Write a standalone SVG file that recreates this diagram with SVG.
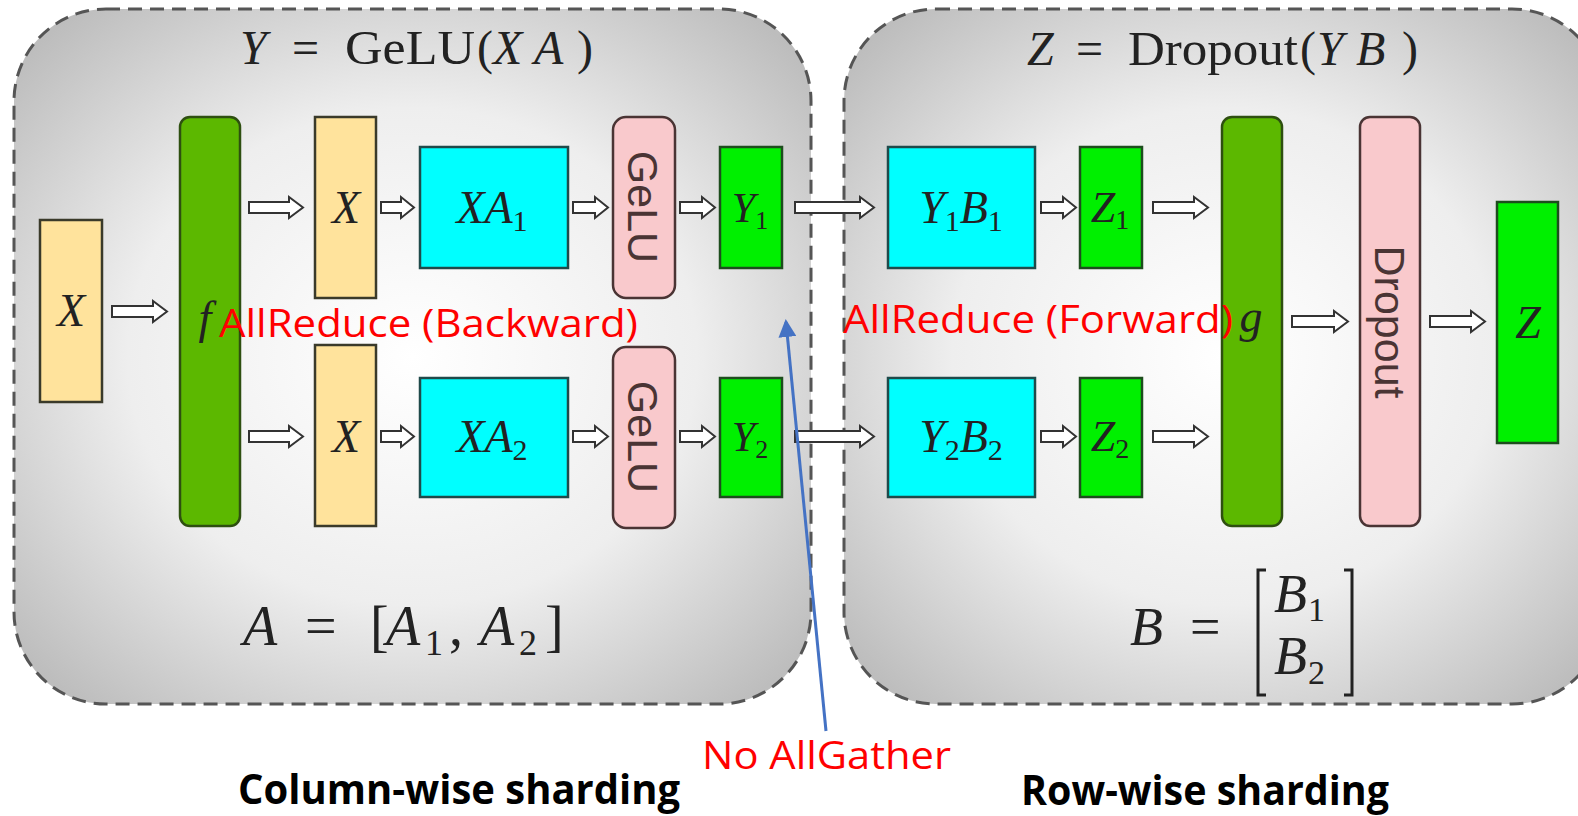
<svg xmlns="http://www.w3.org/2000/svg" width="1578" height="816" viewBox="0 0 1578 816">
<defs>
<radialGradient id="pg" cx="0.5" cy="0.5" r="0.65">
<stop offset="0" stop-color="#ffffff"/>
<stop offset="0.55" stop-color="#eeeeee"/>
<stop offset="1" stop-color="#bdbdbd"/>
</radialGradient>
<marker id="bh" viewBox="0 0 12 12" refX="10" refY="6" markerWidth="6" markerHeight="6" orient="auto">
<path d="M0,0 L12,6 L0,12 z" fill="#4472c4"/>
</marker>
<style>
.panel{fill:url(#pg);stroke:#555;stroke-width:3;stroke-dasharray:14 8}
.xb{fill:#ffe39c;stroke:#3a3a2a;stroke-width:2.5}
.bar{fill:#5cb800;stroke:#2e4f10;stroke-width:2.5}
.cy{fill:#00ffff;stroke:#1f4a4a;stroke-width:2.5}
.gr{fill:#00f000;stroke:#1d4d1d;stroke-width:2.5}
.pk{fill:#f9c9cc;stroke:#4a3434;stroke-width:2.5}
.ar{fill:#ffffff;stroke:#333;stroke-width:2}
.m{font-family:"Liberation Serif","DejaVu Serif","Times New Roman",serif;font-style:italic;fill:#222}
.r{font-family:"Liberation Serif","DejaVu Serif","Times New Roman",serif;font-style:normal;fill:#222}
.sf{font-family:"Liberation Sans",Arial,sans-serif;fill:#4a3434}
.red{font-family:"Open Sans","Liberation Sans",sans-serif;fill:#ff0000}
.bold{font-family:"Open Sans","Liberation Sans",sans-serif;font-weight:bold;fill:#000}
</style>
</defs>

<g id="panel-left">
<rect class="panel" x="14" y="9" width="797" height="695" rx="92"/>
<text class="m" x="240" y="64" font-size="48">Y</text>
<text class="r" x="292" y="64" font-size="48">=</text>
<text class="r" x="345" y="64" font-size="48" textLength="130" lengthAdjust="spacingAndGlyphs">GeLU</text>
<text class="r" x="477" y="64" font-size="48">(</text>
<text class="m" x="493" y="64" font-size="48">X</text>
<text class="m" x="534" y="64" font-size="48">A</text>
<text class="r" x="577" y="64" font-size="48">)</text>
<text class="m" x="243" y="645" font-size="56">A</text>
<text class="r" x="305" y="645" font-size="56">=</text>
<text class="r" x="370" y="645" font-size="56">[</text>
<text class="m" x="386" y="645" font-size="56">A</text>
<text class="r" x="425" y="655" font-size="36">1</text>
<text class="r" x="449" y="645" font-size="56">,</text>
<text class="m" x="480" y="645" font-size="56">A</text>
<text class="r" x="519" y="655" font-size="36">2</text>
<text class="r" x="545" y="645" font-size="56">]</text>
</g>

<g id="panel-right">
<rect class="panel" x="844" y="9" width="760" height="695" rx="92"/>
<text class="m" x="1027" y="65" font-size="48">Z</text>
<text class="r" x="1076" y="65" font-size="48">=</text>
<text class="r" x="1128" y="65" font-size="48" textLength="170" lengthAdjust="spacingAndGlyphs">Dropout</text>
<text class="r" x="1300" y="65" font-size="48">(</text>
<text class="m" x="1317" y="65" font-size="48">Y</text>
<text class="m" x="1356" y="65" font-size="48">B</text>
<text class="r" x="1402" y="65" font-size="48">)</text>
<text class="m" x="1130" y="645" font-size="54">B</text>
<text class="r" x="1190" y="645" font-size="54">=</text>
<polyline points="1266,570 1258,570 1258,695 1266,695" fill="none" stroke="#222" stroke-width="3"/>
<polyline points="1344,570 1352,570 1352,695 1344,695" fill="none" stroke="#222" stroke-width="3"/>
<text class="m" x="1274" y="612" font-size="54">B</text>
<text class="r" x="1308" y="621" font-size="34">1</text>
<text class="m" x="1274" y="674" font-size="54">B</text>
<text class="r" x="1308" y="684" font-size="34">2</text>
</g>

<g id="connectors">
<path class="ar" d="M112,306 L153,306 L153,301 L167,311.5 L153,322 L153,317 L112,317 Z"/>
<path class="ar" d="M249,202 L289,202 L289,197 L303,207.5 L289,218 L289,213 L249,213 Z"/>
<path class="ar" d="M249,431 L289,431 L289,426 L303,436.5 L289,447 L289,442 L249,442 Z"/>
<path class="ar" d="M381,202 L401,202 L401,197 L414,207.5 L401,218 L401,213 L381,213 Z"/>
<path class="ar" d="M381,431 L401,431 L401,426 L414,436.5 L401,447 L401,442 L381,442 Z"/>
<path class="ar" d="M573,202 L595,202 L595,197 L608,207.5 L595,218 L595,213 L573,213 Z"/>
<path class="ar" d="M573,431 L595,431 L595,426 L608,436.5 L595,447 L595,442 L573,442 Z"/>
<path class="ar" d="M680,202 L702,202 L702,197 L715,207.5 L702,218 L702,213 L680,213 Z"/>
<path class="ar" d="M680,431 L702,431 L702,426 L715,436.5 L702,447 L702,442 L680,442 Z"/>
<path class="ar" d="M795,202 L860,202 L860,197 L874,207.5 L860,218 L860,213 L795,213 Z"/>
<path class="ar" d="M795,431 L860,431 L860,426 L874,436.5 L860,447 L860,442 L795,442 Z"/>
<path class="ar" d="M1041,202 L1063,202 L1063,197 L1076,207.5 L1063,218 L1063,213 L1041,213 Z"/>
<path class="ar" d="M1041,431 L1063,431 L1063,426 L1076,436.5 L1063,447 L1063,442 L1041,442 Z"/>
<path class="ar" d="M1153,202 L1194,202 L1194,197 L1208,207.5 L1194,218 L1194,213 L1153,213 Z"/>
<path class="ar" d="M1153,431 L1194,431 L1194,426 L1208,436.5 L1194,447 L1194,442 L1153,442 Z"/>
<path class="ar" d="M1292,316 L1334,316 L1334,311 L1348,321.5 L1334,332 L1334,327 L1292,327 Z"/>
<path class="ar" d="M1430,316 L1471,316 L1471,311 L1485,321.5 L1471,332 L1471,327 L1430,327 Z"/>
<line x1="826" y1="731" x2="786" y2="322" stroke="#4472c4" stroke-width="3" marker-end="url(#bh)"/>
</g>

<g id="node-x-in">
<rect class="xb" x="40" y="220" width="62" height="182"/>
<text class="m" x="71" y="326" font-size="46" text-anchor="middle">X</text>
</g>
<g id="node-f">
<rect class="bar" x="180" y="117" width="60" height="409" rx="10"/>
<text class="m" x="205" y="333" font-size="46" text-anchor="middle">f</text>
</g>
<g id="node-x1">
<rect class="xb" x="315" y="117" width="61" height="181"/>
<text class="m" x="346" y="223" font-size="46" text-anchor="middle">X</text>
</g>
<g id="node-x2">
<rect class="xb" x="315" y="345" width="61" height="181"/>
<text class="m" x="346" y="452" font-size="46" text-anchor="middle">X</text>
</g>
<g id="node-xa1">
<rect class="cy" x="420" y="147" width="148" height="121"/>
<text class="m" x="492" y="223" font-size="46" text-anchor="middle">XA<tspan class="r" font-size="30" dy="8">1</tspan></text>
</g>
<g id="node-xa2">
<rect class="cy" x="420" y="378" width="148" height="119"/>
<text class="m" x="492" y="452" font-size="46" text-anchor="middle">XA<tspan class="r" font-size="30" dy="8">2</tspan></text>
</g>
<g id="node-gelu1">
<rect class="pk" x="613" y="117" width="62" height="181" rx="13"/>
<text class="sf" transform="translate(628,207) rotate(90)" font-size="43" text-anchor="middle">GeLU</text>
</g>
<g id="node-gelu2">
<rect class="pk" x="613" y="347" width="62" height="181" rx="13"/>
<text class="sf" transform="translate(628,437) rotate(90)" font-size="43" text-anchor="middle">GeLU</text>
</g>
<g id="node-y1">
<rect class="gr" x="720" y="147" width="62" height="121"/>
<text class="m" x="750" y="222" font-size="42" text-anchor="middle">Y<tspan class="r" font-size="26" dy="7">1</tspan></text>
</g>
<g id="node-y2">
<rect class="gr" x="720" y="378" width="62" height="119"/>
<text class="m" x="750" y="451" font-size="42" text-anchor="middle">Y<tspan class="r" font-size="26" dy="7">2</tspan></text>
</g>
<g id="node-y1b1">
<rect class="cy" x="888" y="147" width="147" height="121"/>
<text class="m" x="961" y="223" font-size="46" text-anchor="middle">Y<tspan class="r" font-size="30" dy="8">1</tspan><tspan dy="-8">B</tspan><tspan class="r" font-size="30" dy="8">1</tspan></text>
</g>
<g id="node-y2b2">
<rect class="cy" x="888" y="378" width="147" height="119"/>
<text class="m" x="961" y="452" font-size="46" text-anchor="middle">Y<tspan class="r" font-size="30" dy="8">2</tspan><tspan dy="-8">B</tspan><tspan class="r" font-size="30" dy="8">2</tspan></text>
</g>
<g id="node-z1">
<rect class="gr" x="1080" y="147" width="62" height="121"/>
<text class="m" x="1110" y="222" font-size="44" text-anchor="middle">Z<tspan class="r" font-size="28" dy="7">1</tspan></text>
</g>
<g id="node-z2">
<rect class="gr" x="1080" y="378" width="62" height="119"/>
<text class="m" x="1110" y="451" font-size="44" text-anchor="middle">Z<tspan class="r" font-size="28" dy="7">2</tspan></text>
</g>
<g id="node-g">
<rect class="bar" x="1222" y="117" width="60" height="409" rx="10"/>
<text class="m" x="1251" y="332" font-size="46" text-anchor="middle">g</text>
</g>
<g id="node-dropout">
<rect class="pk" x="1360" y="117" width="60" height="409" rx="10"/>
<text class="sf" transform="translate(1375,322) rotate(90)" font-size="43" text-anchor="middle">Dropout</text>
</g>
<g id="node-z">
<rect class="gr" x="1497" y="202" width="61" height="241"/>
<text class="m" x="1528" y="338" font-size="46" text-anchor="middle">Z</text>
</g>

<g id="labels">
<text class="red" x="219" y="337" font-size="38" textLength="419" lengthAdjust="spacingAndGlyphs">AllReduce (Backward)</text>
<text class="red" x="843" y="333" font-size="38" textLength="390" lengthAdjust="spacingAndGlyphs">AllReduce (Forward)</text>
<text class="red" x="702" y="769" font-size="38" textLength="249" lengthAdjust="spacingAndGlyphs">No AllGather</text>
<text class="bold" x="238" y="804" font-size="41" textLength="442" lengthAdjust="spacingAndGlyphs">Column-wise sharding</text>
<text class="bold" x="1021" y="805" font-size="41" textLength="368" lengthAdjust="spacingAndGlyphs">Row-wise sharding</text>
</g>
</svg>
